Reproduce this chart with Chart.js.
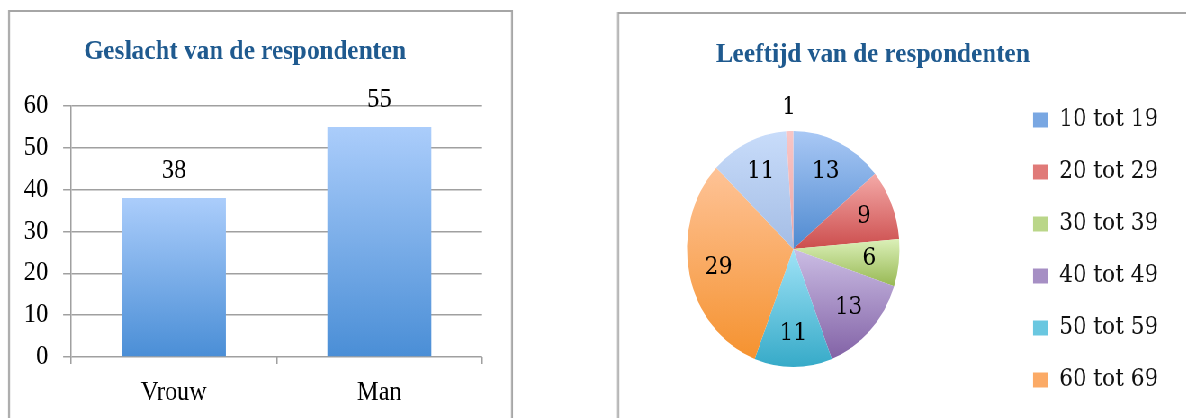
<!DOCTYPE html>
<html><head><meta charset="utf-8">
<script src="https://cdn.jsdelivr.net/npm/chart.js@4/dist/chart.umd.min.js"></script>
<style>
html,body{margin:0;padding:0;background:#fff;overflow:hidden;width:1186px;height:418px;}
#wrap{position:absolute;left:0;top:0;width:1318px;height:418px;transform:scaleX(0.9);transform-origin:0 0;}
.panel{position:absolute;border:2px solid #a6a6a6;box-sizing:border-box;background:#fff;}
#p1{left:8.9px;top:10px;width:561px;height:430px;}
#p2{left:685.6px;top:12px;width:700px;height:430px;}
canvas{position:absolute;}
#bar{left:8.9px;top:10px;}
#pie{left:643px;top:0px;}
</style></head><body>
<div id="wrap">
<div class="panel" id="p1"></div>
<div class="panel" id="p2"></div>
<canvas id="bar" width="561" height="408"></canvas>
<canvas id="pie" width="654" height="420"></canvas>
</div>
<script>
// ---- data ----
const genderTitle = 'Geslacht van de respondenten';
const genderCategories = ['Vrouw', 'Man'];
const genderCounts = [38, 55];
const yMin = 0, yMax = 60, yStep = 10;

const ageTitle = 'Leeftijd van de respondenten';
const ageGroups = ['10 tot 19', '20 tot 29', '30 tot 39', '40 tot 49', '50 tot 59', '60 tot 69', '70 tot 79', '80 tot 89'];
const ageCounts = [13, 9, 6, 13, 11, 29, 11, 1];
const legendShown = 6;

// ---- styles ----
const FONT = 27;
const FAMILY = "'Liberation Serif','Times New Roman',serif";
const PIE_FONT = 24;
const PIE_FAMILY = "'DejaVu Serif',serif";
Chart.defaults.font.family = FAMILY;
Chart.defaults.color = '#000';
const titleColor = '#1f5a8f';
const gridColor = '#a0a0a0';
const barTop = '#abcdfb', barBottom = '#4a8ed6';
const pieTop = ['#a9c8f5', '#f4aaa8', '#dbf0b8', '#cbbde4', '#a0e3f7', '#fec397', '#c8dcfa', '#f8c6c6'];
const pieBottom = ['#4f8ad0', '#cc4d4d', '#97b853', '#8262a6', '#36aac8', '#f5922f', '#a4bde5', '#eea5a5'];
const legendColors = ['#79a7e2', '#e07a78', '#bad689', '#a68fc4', '#6ac7e0', '#fbaa66', '#b6cdf0', '#f3b6b6'];
const PIE_R = 118;

// ---- bar chart ----
const barLabels = {
  id: 'barLabels',
  afterDatasetsDraw(chart) {
    const ctx = chart.ctx;
    const meta = chart.getDatasetMeta(0);
    ctx.save();
    ctx.font = FONT + 'px ' + FAMILY;
    ctx.fillStyle = '#000';
    ctx.textAlign = 'center';
    ctx.textBaseline = 'alphabetic';
    meta.data.forEach((el, i) => ctx.fillText(String(genderCounts[i]), el.x, el.y - 20));
    ctx.restore();
  }
};

new Chart(document.getElementById('bar'), {
  type: 'bar',
  data: {
    labels: genderCategories,
    datasets: [{
      data: genderCounts,
      backgroundColor: (c) => {
        const ch = c.chart, a = ch.chartArea;
        if (!a || !ch.scales.y) return barBottom;
        const y = ch.scales.y.getPixelForValue(genderCounts[c.dataIndex]);
        const g = ch.ctx.createLinearGradient(0, y, 0, a.bottom);
        g.addColorStop(0, barTop); g.addColorStop(1, barBottom);
        return g;
      },
      borderWidth: 0,
      barPercentage: 0.506,
      categoryPercentage: 1
    }]
  },
  options: {
    responsive: false, animation: false,
    layout: { padding: { left: 0, right: 34.3, top: 0, bottom: 0 } },
    plugins: {
      legend: { display: false },
      tooltip: { enabled: false },
      title: { display: true, text: genderTitle, color: titleColor,
        font: { size: 28, weight: 'bold' }, padding: { top: 25.2, bottom: 37.2 } }
    },
    scales: {
      x: {
        grid: { drawOnChartArea: false, drawTicks: true, tickLength: 7, color: gridColor, lineWidth: 1.5 },
        border: { display: false },
        ticks: { font: { size: FONT }, padding: 12.4, color: '#000' },
        afterFit(s) { s.height = 61; }
      },
      y: {
        min: yMin, max: yMax,
        ticks: { stepSize: yStep, font: { size: FONT }, padding: 16.7, color: '#000' },
        grid: { color: gridColor, lineWidth: 1.5, tickLength: 8.9 },
        border: { display: true, color: gridColor, width: 1.5 },
        afterFit(s) { s.width = 70; }
      }
    }
  },
  plugins: [barLabels]
});

// ---- pie chart ----
function sliceGradient(c) {
  const ch = c.chart, a = ch.chartArea, i = c.dataIndex;
  if (!a) return pieBottom[i];
  const cx = (a.left + a.right) / 2, cy = (a.top + a.bottom) / 2;
  const total = ageCounts.reduce((s, v) => s + v, 0);
  let start = -Math.PI / 2;
  for (let k = 0; k < i; k++) start += ageCounts[k] / total * 2 * Math.PI;
  const end = start + ageCounts[i] / total * 2 * Math.PI;
  const ys = [cy, cy + PIE_R * Math.sin(start), cy + PIE_R * Math.sin(end)];
  const contains = (ang) => { let t = ang; while (t < start) t += 2 * Math.PI; return t <= end; };
  if (contains(-Math.PI / 2)) ys.push(cy - PIE_R);
  if (contains(Math.PI / 2)) ys.push(cy + PIE_R);
  const y0 = Math.min(...ys), y1 = Math.max(...ys);
  const g = ch.ctx.createLinearGradient(0, y0, 0, y1 > y0 ? y1 : y0 + 1);
  g.addColorStop(0, pieTop[i]); g.addColorStop(1, pieBottom[i]);
  return g;
}

const pieLabels = {
  id: 'pieLabels',
  afterDatasetsDraw(chart) {
    const ctx = chart.ctx;
    const meta = chart.getDatasetMeta(0);
    const total = ageCounts.reduce((s, v) => s + v, 0);
    ctx.save();
    ctx.font = PIE_FONT + 'px ' + PIE_FAMILY;
    ctx.fillStyle = '#000';
    ctx.textAlign = 'center';
    ctx.textBaseline = 'middle';
    meta.data.forEach((arc, i) => {
      const p = arc.getProps(['x', 'y', 'startAngle', 'endAngle', 'outerRadius'], true);
      const mid = (p.startAngle + p.endAngle) / 2;
      const r = ageCounts[i] / total < 0.03 ? p.outerRadius * 1.2 : p.outerRadius * 0.72;
      ctx.fillText(String(ageCounts[i]), p.x + Math.cos(mid) * r, p.y + Math.sin(mid) * r);
    });
    ctx.restore();
  }
};

new Chart(document.getElementById('pie'), {
  type: 'pie',
  data: {
    labels: ageGroups,
    datasets: [{ data: ageCounts, backgroundColor: sliceGradient, borderWidth: 0, radius: PIE_R }]
  },
  options: {
    responsive: false, animation: false,
    layout: { padding: 0 },
    plugins: {
      tooltip: { enabled: false },
      title: { display: true, text: ageTitle, color: titleColor,
        font: { size: 28, weight: 'bold' }, padding: { top: 37.7, bottom: 6.7 } },
      legend: {
        position: 'right', align: 'end',
        labels: {
          boxWidth: 17, boxHeight: 15, padding: 28, color: '#111',
          font: { size: PIE_FONT, family: PIE_FAMILY },
          generateLabels() {
            return ageGroups.map((t, i) => ({
              text: t, fillStyle: legendColors[i], strokeStyle: legendColors[i],
              lineWidth: 0, hidden: false, index: i, fontColor: '#111'
            })).filter(it => it.index < legendShown);
          }
        }
      }
    }
  },
  plugins: [pieLabels]
});
</script>
</body></html>
